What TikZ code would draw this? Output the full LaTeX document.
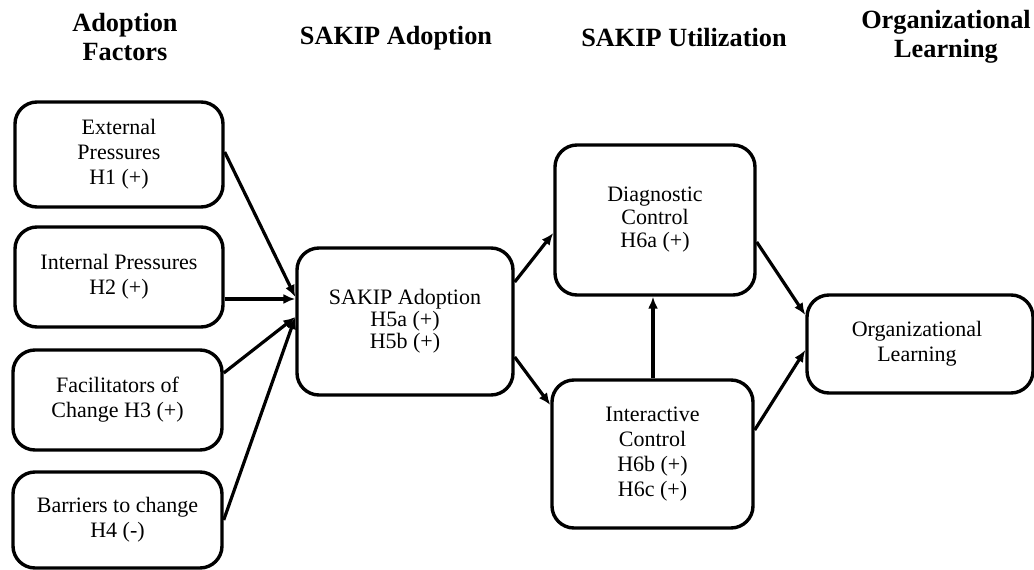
\documentclass[tikz,border=0pt]{standalone}
\usepackage{fontspec}
\setmainfont{Liberation Serif}
\usetikzlibrary{arrows.meta}
\begin{document}
\begin{tikzpicture}[x=1pt,y=-1pt,
  box/.style={draw,line width=3.4pt,rounded corners=22pt,align=center,inner sep=0pt,
    font=\fontsize{22}{25}\selectfont},
  head/.style={align=center,font=\fontsize{26.3}{29}\selectfont\bfseries},
  arr/.style={line width=3.2pt,-{Latex[length=12pt,width=10pt]}}]
\useasboundingbox (0,0) rectangle (1034,570);
\node[head] (h1) at (125,37) {Adoption\\Factors};
\node[head] (h2) at (396,38) {SAKIP Adoption};
\node[head] (h3) at (684,38) {SAKIP Utilization};
\node[head] (h4) at (946,37) {Organizational\\Learning};

\node[box,minimum width=208pt,minimum height=105pt] (b1) at (119,154.5) {External\\Pressures\\H1 (+)};
\node[box,minimum width=208pt,minimum height=100pt] (b2) at (119,277) {Internal Pressures\\H2 (+)};
\node[box,minimum width=209pt,minimum height=100pt] (b3) at (117.5,400) {Facilitators of\\Change H3 (+)};
\node[box,minimum width=209pt,minimum height=96pt] (b4) at (117.5,520) {Barriers to change\\H4 (-)};
\node[box,minimum width=216pt,minimum height=147pt] (sa) at (405,321.5) {SAKIP Adoption\\[-3pt]H5a (+)\\[-3pt]H5b (+)};
\node[box,minimum width=200pt,minimum height=150pt] (dc) at (655,220) {Diagnostic\\[-2pt]Control\\[-2pt]H6a (+)};
\node[box,minimum width=201pt,minimum height=148pt] (ic) at (652.5,454) {Interactive\\Control\\H6b (+)\\H6c (+)};
\node[box,minimum width=226pt,minimum height=98pt] (ol) at (920,344) {};
\node[font=\fontsize{22}{25}\selectfont,align=center] (olt) at (917,344) {Organizational\\Learning};

\draw[arr] ([yshift=2.5pt]b1.east) -- ([yshift=24.5pt]sa.west);
\draw[arr] ([yshift=-22pt]b2.east) -- ([yshift=22.5pt]sa.west);
\draw[arr] ([yshift=27pt]b3.east) -- ([yshift=4.5pt]sa.west);
\draw[arr] ([yshift=0pt]b4.east) -- ([yshift=4.5pt]sa.west);
\draw[arr] ([yshift=39.5pt]sa.east) -- ([yshift=-13pt]dc.west);
\draw[arr] ([yshift=-35.5pt]sa.east) -- ([yshift=49pt]ic.west);
\draw[arr] ([xshift=0.5pt]ic.north) -- ([xshift=-2pt]dc.south);
\draw[arr] ([yshift=-22pt]dc.east) -- ([yshift=29pt]ol.west);
\draw[arr] ([yshift=24pt]ic.east) -- ([yshift=-6pt]ol.west);
\end{tikzpicture}
\end{document}
